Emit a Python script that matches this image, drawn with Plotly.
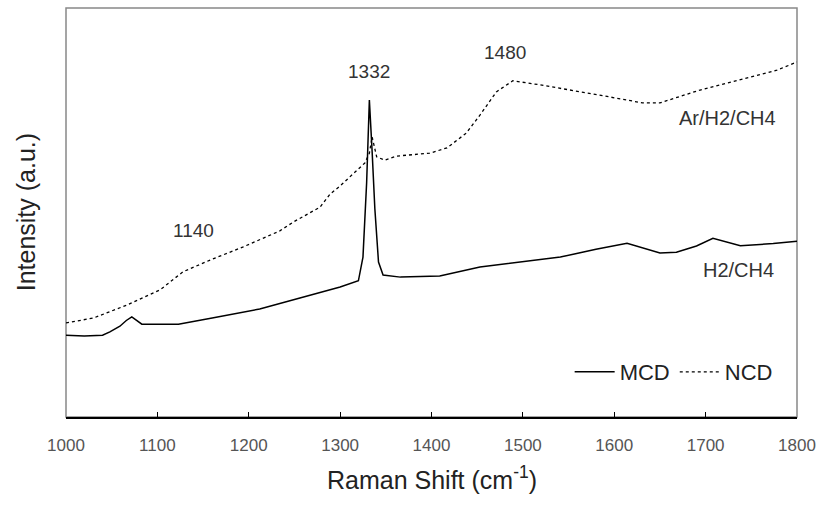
import plotly.graph_objects as go

# Raman shift (cm^-1) and intensity (a.u., 0-100 scale of the plot height)
mcd_x = [1000, 1020, 1040, 1048, 1059, 1066, 1072, 1078, 1083, 1100, 1123, 1160, 1212, 1256,
         1300, 1320, 1325, 1329, 1332, 1335, 1338, 1342, 1347, 1366, 1409, 1453, 1500, 1541,
         1580, 1614, 1650, 1668, 1690, 1708, 1738, 1774, 1800]
mcd_y = [20.0, 19.8, 20.0, 20.8, 22.2, 23.6, 24.5, 23.4, 22.7, 22.7, 22.7, 24.2, 26.4, 29.1,
         31.8, 33.3, 39.1, 57.2, 77.5, 65.0, 50.9, 37.9, 34.7, 34.2, 34.5, 36.7, 37.9, 39.1,
         41.0, 42.5, 40.1, 40.3, 41.8, 43.7, 41.9, 42.4, 43.0]

ncd_x = [1000, 1030, 1067, 1103, 1128, 1158, 1194, 1234, 1249, 1278, 1289, 1300, 1327, 1332,
         1335, 1340, 1349, 1362, 1398, 1417, 1438, 1453, 1471, 1489, 1519, 1541, 1584, 1631,
         1650, 1694, 1749, 1778, 1800]
ncd_y = [23.0, 24.2, 27.4, 31.1, 35.5, 38.4, 41.6, 45.5, 47.7, 51.3, 54.5, 56.5, 62.1, 64.5,
         68.5, 63.6, 62.8, 63.8, 64.5, 65.8, 69.4, 73.8, 79.5, 82.2, 81.2, 80.4, 78.7, 76.8,
         76.8, 79.95, 83.1, 84.8, 86.8]

x_ticks = [1000, 1100, 1200, 1300, 1400, 1500, 1600, 1700, 1800]

peak_labels = ["1140", "1332", "1480"]
peak_pos = [1140, 1332, 1480]
peak_lab_y = [45.7, 84.4, 89.0]

sample_labels = ["Ar/H2/CH4", "H2/CH4"]
sample_x = [1724, 1736]
sample_y = [73.1, 35.9]

FONT = "Liberation Sans, Arial, sans-serif"

fig = go.Figure()
fig.add_trace(go.Scatter(x=mcd_x, y=mcd_y, mode="lines", name="MCD",
                         line=dict(color="black", width=1.5)))
fig.add_trace(go.Scatter(x=ncd_x, y=ncd_y, mode="lines", name="NCD",
                         line=dict(color="black", width=1.3, dash="dot")))

for t, xv, yv in zip(peak_labels, peak_pos, peak_lab_y):
    fig.add_annotation(x=xv, y=yv, text=t, showarrow=False, xref="x", yref="y",
                       font=dict(family=FONT, size=19, color="#333333"))
for t, xv, yv in zip(sample_labels, sample_x, sample_y):
    fig.add_annotation(x=xv, y=yv, text=t, showarrow=False, xref="x", yref="y",
                       font=dict(family=FONT, size=20, color="#333333"))

# axis titles
fig.add_annotation(x=0.5, y=-0.149, xref="paper", yref="paper", showarrow=False,
                   xanchor="center", yanchor="middle",
                   text="Raman Shift (cm<sup>-1</sup>)",
                   font=dict(family=FONT, size=25, color="#222222"))
fig.add_annotation(x=-0.055, y=0.5, xref="paper", yref="paper", showarrow=False,
                   xanchor="center", yanchor="middle", textangle=-90,
                   text="Intensity (a.u.)",
                   font=dict(family=FONT, size=25, color="#222222"))

# grey frame
fig.add_shape(type="rect", xref="paper", yref="paper", x0=0, y0=0, x1=1, y1=1,
              line=dict(color="#888888", width=1.5), layer="below")

fig.update_layout(
    width=817, height=506,
    margin=dict(l=66, r=20, t=8, b=89, autoexpand=False),
    paper_bgcolor="white", plot_bgcolor="white",
    font=dict(family=FONT, color="#333333"),
    showlegend=True,
    legend=dict(orientation="h", x=0.689, y=0.11, xanchor="left", yanchor="middle",
                font=dict(family=FONT, size=22, color="#222222"),
                bgcolor="rgba(0,0,0,0)", itemwidth=40, tracegroupgap=0),
    xaxis=dict(range=[1000, 1800], tickvals=x_ticks, automargin=False,
               ticks="inside", ticklen=5, tickcolor="black", showline=True, linecolor="black",
               linewidth=1.5, showgrid=False, zeroline=False,
               tickfont=dict(family=FONT, size=17, color="#555555"), ticklabelstandoff=12),
    yaxis=dict(range=[0, 100], showticklabels=False, ticks="", showgrid=False, zeroline=False,
               showline=False, automargin=False),
)

fig.write_html("out.html")
